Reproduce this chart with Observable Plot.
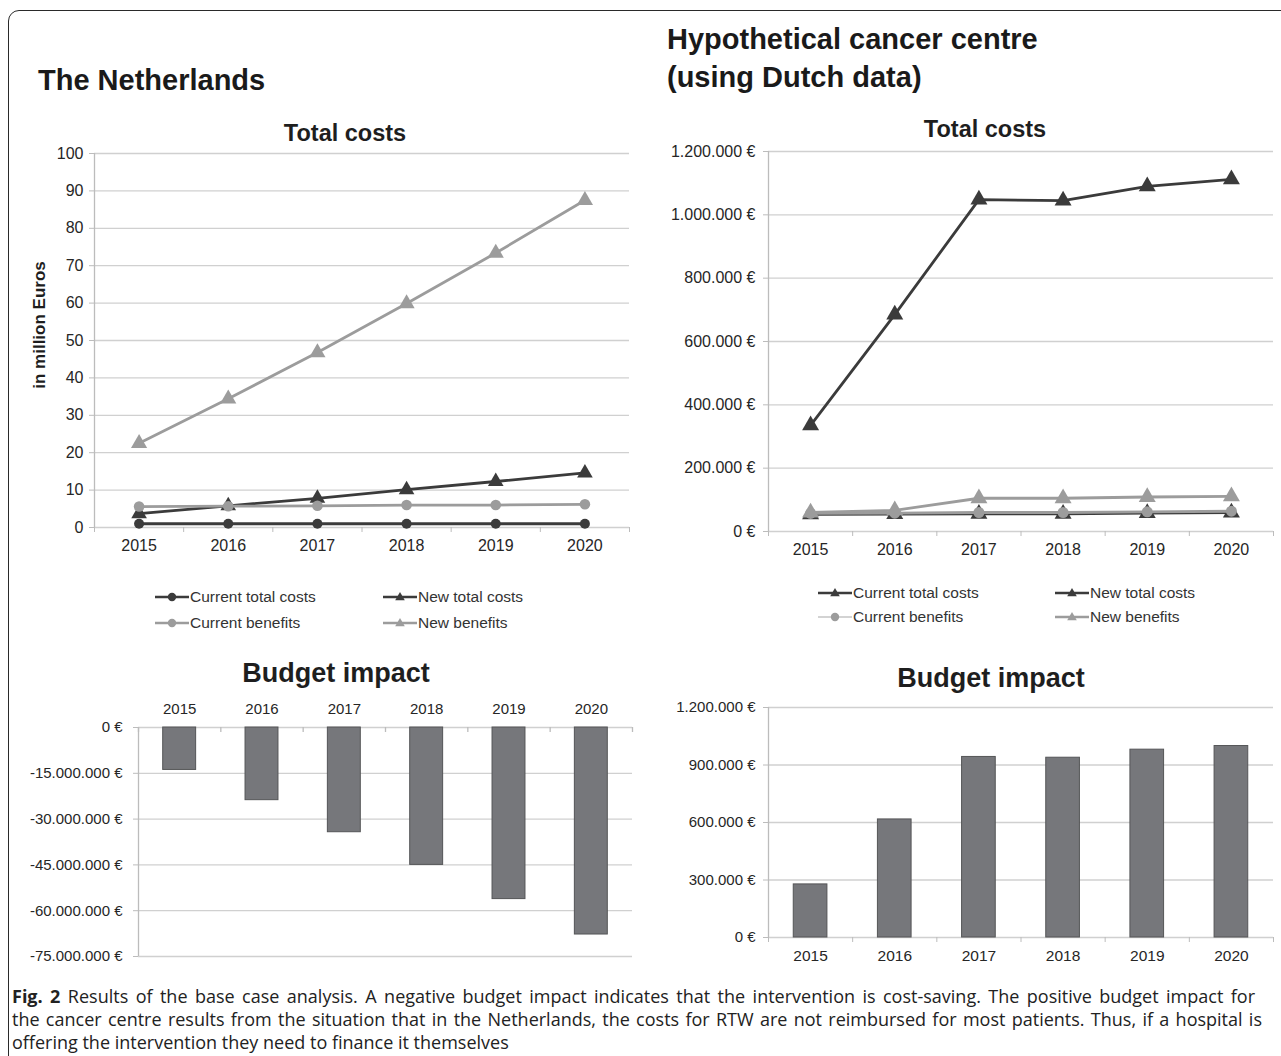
<!DOCTYPE html>
<html><head><meta charset="utf-8">
<script src="https://cdn.jsdelivr.net/npm/d3@7"></script>
<script src="https://cdn.jsdelivr.net/npm/@observablehq/plot@0.6"></script>
<style>
html,body{margin:0;padding:0;background:#fff}
body{position:relative;width:1281px;height:1056px;overflow:hidden;font-family:"Liberation Sans",Arial,sans-serif;color:#1e1e1e}
.a{position:absolute;white-space:nowrap}
#frame{position:absolute;left:8px;top:10px;width:1330px;height:1120px;border:1.6px solid #2a2a2a;border-radius:11px;box-sizing:border-box}
.big{font-weight:bold;font-size:29px;line-height:34px;color:#1a1a1a}
.ttl{font-weight:bold;font-size:23.5px;line-height:28px;transform:translateX(-50%);color:#1e1e1e}
.bi{font-weight:bold;font-size:27px;line-height:32px;transform:translateX(-50%);color:#1e1e1e}
.leg{font-size:15.5px;line-height:18px;color:#333;display:flex;align-items:center}
.leg svg{margin-right:1px}
.cap{left:12px;font-family:"Open Sans","Noto Sans",sans-serif;font-size:18px;line-height:23px;color:#222}
.cap b{font-weight:700}
</style></head><body>
<div id="frame"></div>
<script>
// ---------- data ----------
const years = [2015, 2016, 2017, 2018, 2019, 2020];
const seriesNames = ["Current total costs", "New total costs", "Current benefits", "New benefits"];

// The Netherlands – total costs (in million Euros)
const nlCurrentTotalCosts = [1.0, 1.0, 1.0, 1.0, 1.0, 1.0];
const nlNewTotalCosts = [3.7, 5.8, 7.8, 10.1, 12.3, 14.6];
const nlCurrentBenefits = [5.6, 5.7, 5.8, 6.0, 6.0, 6.2];
const nlNewBenefits = [22.5, 34.4, 46.8, 59.9, 73.4, 87.5];
const nlYTicks = [0, 10, 20, 30, 40, 50, 60, 70, 80, 90, 100];

// Hypothetical cancer centre – total costs (€)
const ccCurrentTotalCosts = [54000, 55000, 56000, 56000, 58000, 60000];
const ccNewTotalCosts = [335000, 685000, 1048000, 1045000, 1090000, 1112000];
const ccCurrentBenefits = [57000, 58000, 60000, 60000, 62000, 64000];
const ccNewBenefits = [60000, 67000, 105000, 105000, 109000, 111000];
const ccYTicks = [0, 200000, 400000, 600000, 800000, 1000000, 1200000];

// Budget impact (€)
const nlBudgetImpact = [-13900000, -23800000, -34300000, -45000000, -56200000, -67800000];
const nlBudgetTicks = [0, -15000000, -30000000, -45000000, -60000000, -75000000];
const ccBudgetImpact = [277000, 616000, 942000, 938000, 980000, 999000];
const ccBudgetTicks = [0, 300000, 600000, 900000, 1200000];

// ---------- styles ----------
const DARK = "#3b3b3b", GREY = "#9c9c9c";
const GRID = "#d0d0d0", AXIS = "#bcbcbc", TXT = "#262626";
const nlStyles = {
  "Current total costs": {color: DARK, symbol: "circle", r: 5, sw: 2.8},
  "New total costs": {color: DARK, symbol: "triangle", r: 5.8, sw: 2.8},
  "Current benefits": {color: GREY, symbol: "circle", r: 5.3, sw: 2.8},
  "New benefits": {color: GREY, symbol: "triangle", r: 6, sw: 2.8}
};
const ccStyles = {
  "Current total costs": {color: DARK, symbol: "triangle", r: 6.3, sw: 2.8},
  "New total costs": {color: DARK, symbol: "triangle", r: 6.3, sw: 2.8},
  "Current benefits": {color: GREY, symbol: "circle", r: 5.5, sw: 2.8, legendSw: 1.2},
  "New benefits": {color: GREY, symbol: "triangle", r: 6.3, sw: 2.8}
};

const locale = d3.formatLocale({decimal: ",", thousands: ".", grouping: [3], currency: ["", "\u00a0€"], minus: "-"});
const euro = locale.format("$,.0f");
const xDomain = [years[0] - 0.5, years[years.length - 1] + 0.5];
const boundaries = d3.range(years.length + 1).map(i => xDomain[0] + i);
const barHalf = 0.2;
const FONT = "'Liberation Sans', Arial, sans-serif";

function put(node, left, top) {
  node.style.position = "absolute";
  node.style.left = left + "px";
  node.style.top = top + "px";
  document.body.appendChild(node);
  return node;
}
function div(cls, text, left, top) {
  const d = document.createElement("div");
  d.className = "a " + cls;
  d.textContent = text;
  return put(d, left, top);
}

function lineChart({values, styles, yDomain, yTicks, fmt, box, tickPadding, fontSize}) {
  const table = seriesNames.flatMap((s, k) => years.map((year, i) => ({series: s, year, value: values[k][i]})));
  const marks = [
    Plot.gridY(yTicks, {stroke: GRID, strokeOpacity: 1, strokeWidth: 1.3}),
    Plot.ruleX([xDomain[0]], {stroke: AXIS, strokeWidth: 1.3}),
    Plot.axisY(yTicks, {tickSize: 5, tickPadding, tickFormat: fmt, fontSize, stroke: AXIS, fill: TXT, label: null}),
    Plot.axisX(years, {tickSize: 0, tickPadding: 12, fontSize: 16, fill: TXT, tickFormat: d => String(d), label: null}),
    Plot.axisX(boundaries, {tickSize: 5, tickFormat: () => "", stroke: AXIS, label: null})
  ];
  for (const s of seriesNames) {
    const st = styles[s];
    const data = table.filter(d => d.series === s);
    marks.push(Plot.line(data, {x: "year", y: "value", stroke: st.color, strokeWidth: st.sw}));
    marks.push(Plot.dot(data, {x: "year", y: "value", symbol: st.symbol, r: st.r, fill: st.color, stroke: null}));
  }
  const svg = Plot.plot({
    width: box.width, height: box.height,
    marginLeft: box.ml, marginRight: box.mr, marginTop: box.mt, marginBottom: box.mb,
    x: {domain: xDomain, label: null},
    y: {domain: yDomain, label: null},
    style: {fontFamily: FONT, fontSize: fontSize + "px", background: "transparent", overflow: "visible", color: TXT},
    marks
  });
  return put(svg, box.left, box.top);
}

function barChart({values, yDomain, yTicks, box, topAxis, fontSize, xFontSize, tickPadding, xPadding}) {
  const table = years.map((year, i) => ({year, value: values[i]}));
  const plotH = box.height - box.mt - box.mb;
  const marks = [
    Plot.gridY(yTicks, {stroke: GRID, strokeOpacity: 1, strokeWidth: 1.3}),
    Plot.ruleX([xDomain[0]], {stroke: AXIS, strokeWidth: 1.3}),
    Plot.axisY(yTicks, {tickSize: 5, tickPadding, tickFormat: euro, fontSize, stroke: AXIS, fill: TXT, label: null}),
    Plot.axisX(years, {anchor: topAxis ? "top" : "bottom", tickSize: 0, tickPadding: xPadding, fontSize: xFontSize, fill: TXT, tickFormat: d => String(d), label: null}),
    topAxis
      ? Plot.ruleX(boundaries, {stroke: AXIS, strokeWidth: 1.3, insetBottom: plotH - 5})
      : Plot.axisX(boundaries, {tickSize: 5, tickFormat: () => "", stroke: AXIS, label: null}),
    Plot.rectY(table, {x1: d => d.year - barHalf, x2: d => d.year + barHalf, y: "value", fill: "#76777b", stroke: "#545557", strokeWidth: 1})
  ];
  const svg = Plot.plot({
    width: box.width, height: box.height,
    marginLeft: box.ml, marginRight: box.mr, marginTop: box.mt, marginBottom: box.mb,
    x: {domain: xDomain, label: null},
    y: {domain: yDomain, label: null},
    style: {fontFamily: FONT, fontSize: fontSize + "px", background: "transparent", overflow: "visible", color: TXT},
    marks
  });
  return put(svg, box.left, box.top);
}

function swatch(st, thin) {
  const w = thin ? st.legendSw : 2.6;
  const marker = st.symbol === "circle"
    ? `<circle cx="17" cy="8" r="4.2" fill="${st.color}"/>`
    : `<path d="M17,3 L21.8,11.3 L12.2,11.3 Z" fill="${st.color}"/>`;
  return `<svg width="34" height="16"><line x1="0" y1="8" x2="34" y2="8" stroke="${thin ? "#a8a8a8" : st.color}" stroke-width="${w}"/>${marker}</svg>`;
}
function legend(styles, positions, thinName) {
  seriesNames.forEach((s, k) => {
    const d = document.createElement("div");
    d.className = "a leg";
    d.innerHTML = swatch(styles[s], s === thinName) + "<span>" + s + "</span>";
    put(d, positions[k][0], positions[k][1] - 9);
  });
}

// ---------- headings ----------
div("big", "The Netherlands", 38, 63);
div("big", "Hypothetical cancer centre", 667, 22);
div("big", "(using Dutch data)", 667, 60);
div("ttl", "Total costs", 345, 119);
div("ttl", "Total costs", 985, 115);
div("bi", "Budget impact", 336, 657);
div("bi", "Budget impact", 991, 662);

// ---------- charts ----------
lineChart({
  values: [nlCurrentTotalCosts, nlNewTotalCosts, nlCurrentBenefits, nlNewBenefits],
  styles: nlStyles, yDomain: [0, 100], yTicks: nlYTicks, fmt: d => String(d),
  box: {left: 0, top: 145, width: 640, height: 420, ml: 94, mr: 11, mt: 8, mb: 38},
  tickPadding: 6, fontSize: 16
});
const yl = div("", "in million Euros", 40, 325);
yl.style.fontWeight = "bold"; yl.style.fontSize = "17px"; yl.style.color = "#1e1e1e";
yl.style.transform = "translate(-50%,-50%) rotate(-90deg)";

lineChart({
  values: [ccCurrentTotalCosts, ccNewTotalCosts, ccCurrentBenefits, ccNewBenefits],
  styles: ccStyles, yDomain: [0, 1200000], yTicks: ccYTicks, fmt: euro,
  box: {left: 640, top: 142, width: 641, height: 420, ml: 128, mr: 8, mt: 9, mb: 31},
  tickPadding: 8, fontSize: 16
});

legend(nlStyles, [[155, 597], [383, 597], [155, 623], [383, 623]]);
legend(ccStyles, [[818, 593], [1055, 593], [818, 617], [1055, 617]], "Current benefits");

barChart({
  values: nlBudgetImpact, yDomain: [-75000000, 0], yTicks: nlBudgetTicks,
  box: {left: 0, top: 690, width: 640, height: 280, ml: 138, mr: 8, mt: 37, mb: 14},
  topAxis: true, fontSize: 15, xFontSize: 15, tickPadding: 11, xPadding: 14
});
barChart({
  values: ccBudgetImpact, yDomain: [0, 1200000], yTicks: ccBudgetTicks,
  box: {left: 640, top: 695, width: 641, height: 275, ml: 128, mr: 8, mt: 12, mb: 33},
  topAxis: false, fontSize: 15, xFontSize: 15.5, tickPadding: 8, xPadding: 12
});

// ---------- caption (first two lines justified) ----------
const capLines = [
  "<b>Fig. 2</b> Results of the base case analysis. A negative budget impact indicates that the intervention is cost-saving. The positive budget impact for",
  "the cancer centre results from the situation that in the Netherlands, the costs for RTW are not reimbursed for most patients. Thus, if a hospital is",
  "offering the intervention they need to finance it themselves"
];
const capTargets = [1243, 1250, null];
capLines.forEach((html, i) => {
  const d = document.createElement("div");
  d.className = "a cap";
  d.innerHTML = html;
  put(d, 12, 985 + i * 23);
  if (capTargets[i]) {
    const w = d.getBoundingClientRect().width;
    const spaces = (d.textContent.match(/ /g) || []).length;
    d.style.wordSpacing = ((capTargets[i] - w) / spaces) + "px";
  }
});
</script>
</body></html>
